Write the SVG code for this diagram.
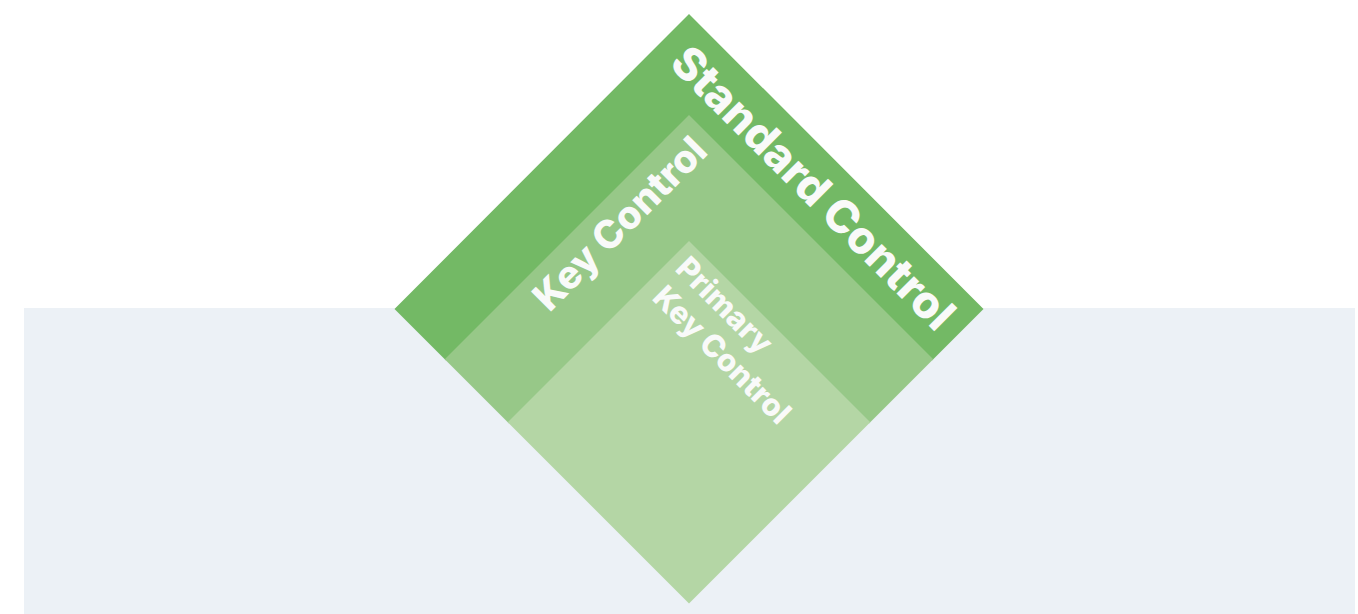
<svg xmlns="http://www.w3.org/2000/svg" width="1358" height="614" viewBox="0 0 1358 614">
  <style>
    .lbl { font-family: Inter, Lato, "Open Sans", "Liberation Sans", sans-serif; font-weight: 800; fill: #F9FAF9; }
  </style>
  <rect x="0" y="0" width="1358" height="614" fill="#FFFFFF"/>
  <rect id="band" x="24" y="308" width="1331" height="306" fill="#ECF1F6"/>
  <g id="standard-control">
    <polygon points="394.5,309 689,14 983.5,309 932,360.5 689,117.5 446,360.5" fill="#73B965"/>
    <text class="lbl" font-size="45" text-anchor="middle" transform="translate(802,199) rotate(45)">Standard Control</text>
  </g>
  <g id="key-control">
    <polygon points="444.75,359.25 689,115 933.25,359.25 869,423.5 689,243.5 509,423.5" fill="#97C888"/>
    <text class="lbl" font-size="39" text-anchor="middle" transform="translate(629.5,233) rotate(-45)">Key Control</text>
  </g>
  <g id="primary-key-control">
    <polygon points="689,241 870.25,422.25 689,603.5 507.75,422.25" fill="#B4D6A5"/>
    <text class="lbl" font-size="31" transform="translate(674,270) rotate(45)">Primary</text>
    <text class="lbl" font-size="31" transform="translate(651,299) rotate(45)">Key Control</text>
  </g>
  <g id="connectors"/>
</svg>
